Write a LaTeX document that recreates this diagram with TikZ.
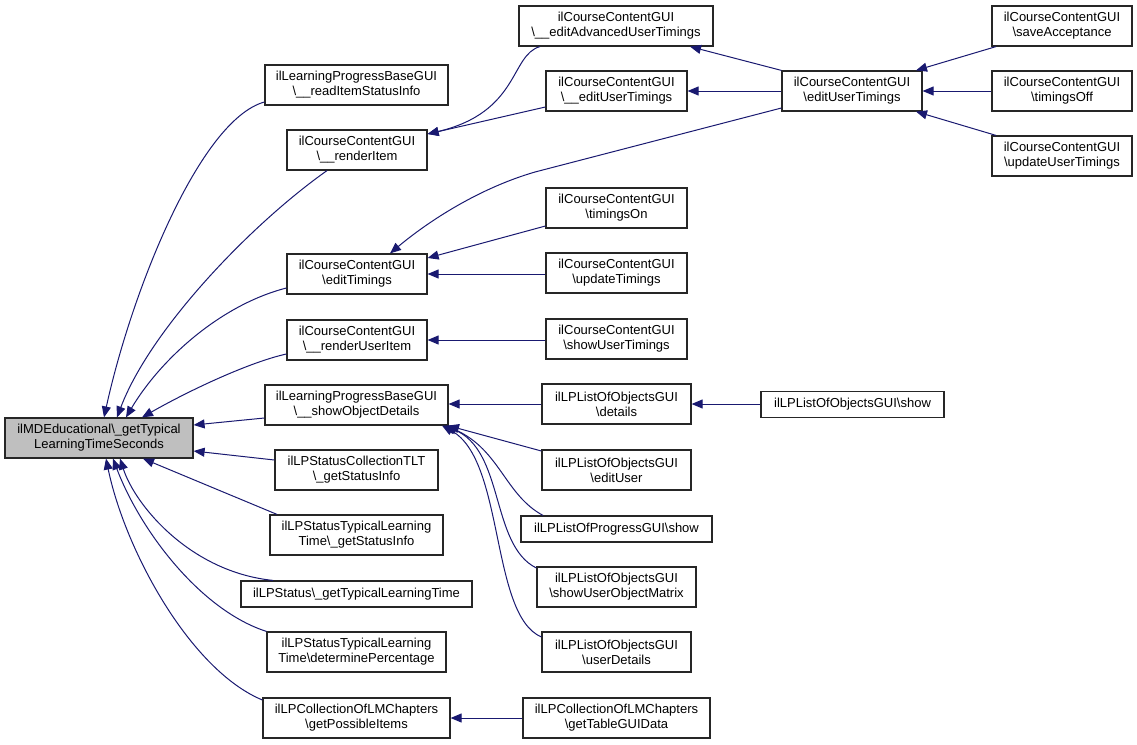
\documentclass[tikz,border=0pt]{standalone}
\usepackage{fontspec}
\setmainfont{Liberation Sans}
\usetikzlibrary{arrows.meta}
\definecolor{edgecol}{HTML}{191970}
\definecolor{mainfill}{HTML}{BFBFBF}
\newcommand{\bsl}{\textbackslash}
\begin{document}
\begin{tikzpicture}[x=1pt,y=-1pt,
  box/.style={draw=black!85, line width=1.2pt, inner sep=0pt, minimum height=40pt, align=center, font=\fontsize{13}{15}\selectfont},
  box1/.style={box, minimum height=26pt},
  edge/.style={draw=edgecol, line width=1pt, -{Triangle[length=11pt,width=9pt]}}]
\useasboundingbox (0,0) rectangle (1137,744);

% main
\node[box, fill=mainfill, minimum width=188pt] (main) at (99,438) {ilMDEducational\bsl\_getTypical\\LearningTimeSeconds};

% column 2
\node[box, minimum width=183pt] (rIS) at (356.5,85) {ilLearningProgressBaseGUI\\\bsl\_\_readItemStatusInfo};
\node[box, minimum width=140pt] (rI) at (357,150) {ilCourseContentGUI\\\bsl\_\_renderItem};
\node[box, minimum width=140pt] (eT) at (357,274) {ilCourseContentGUI\\\bsl editTimings};
\node[box, minimum width=140pt] (rUI) at (357,340) {ilCourseContentGUI\\\bsl\_\_renderUserItem};
\node[box, minimum width=183pt] (sOD) at (356.5,405) {ilLearningProgressBaseGUI\\\bsl\_\_showObjectDetails};
\node[box, minimum width=163pt] (sCT) at (356.5,470) {ilLPStatusCollectionTLT\\\bsl\_getStatusInfo};
\node[box, minimum width=173pt] (sTG) at (356.5,535) {ilLPStatusTypicalLearning\\Time\bsl\_getStatusInfo};
\node[box1, minimum width=231pt] (sGT) at (356.5,594) {ilLPStatus\bsl\_getTypicalLearningTime};
\node[box, minimum width=179pt] (dP) at (356.5,652) {ilLPStatusTypicalLearning\\Time\bsl determinePercentage};
\node[box, minimum width=187pt] (gPI) at (356.5,718) {ilLPCollectionOfLMChapters\\\bsl getPossibleItems};

% column 3
\node[box, minimum width=194pt] (eAUT) at (616,26) {ilCourseContentGUI\\\bsl\_\_editAdvancedUserTimings};
\node[box, minimum width=141pt] (eUTb) at (616.5,91) {ilCourseContentGUI\\\bsl\_\_editUserTimings};
\node[box, minimum width=141pt] (tOn) at (616.5,208) {ilCourseContentGUI\\\bsl timingsOn};
\node[box, minimum width=141pt] (uT) at (616.5,273) {ilCourseContentGUI\\\bsl updateTimings};
\node[box, minimum width=141pt] (sUT) at (616.5,339) {ilCourseContentGUI\\\bsl showUserTimings};
\node[box, minimum width=149pt] (det) at (616.5,404) {ilLPListOfObjectsGUI\\\bsl details};
\node[box, minimum width=149pt] (eU) at (616.5,470) {ilLPListOfObjectsGUI\\\bsl editUser};
\node[box1, minimum width=191pt] (pS) at (616.5,529) {ilLPListOfProgressGUI\bsl show};
\node[box, minimum width=159pt] (sUOM) at (616.5,587) {ilLPListOfObjectsGUI\\\bsl showUserObjectMatrix};
\node[box, minimum width=149pt] (uD) at (616.5,652) {ilLPListOfObjectsGUI\\\bsl userDetails};
\node[box, minimum width=187pt] (gTG) at (616.5,718) {ilLPCollectionOfLMChapters\\\bsl getTableGUIData};

% column 4
\node[box, minimum width=140pt] (eUT) at (852,91) {ilCourseContentGUI\\\bsl editUserTimings};
\node[box1, minimum width=183pt] (oShow) at (852.5,404.5) {ilLPListOfObjectsGUI\bsl show};

% column 5
\node[box, minimum width=140pt] (sA) at (1062,26) {ilCourseContentGUI\\\bsl saveAcceptance};
\node[box, minimum width=140pt] (tOff) at (1062,91) {ilCourseContentGUI\\\bsl timingsOff};
\node[box, minimum width=140pt] (uUT) at (1062,156) {ilCourseContentGUI\\\bsl updateUserTimings};

% edges into main
\draw[edge] (rIS.west |- 0,102) .. controls (200,120) and (132,290) .. (main.north -| 104,0);
\draw[edge] (rI.south -| 327,0) .. controls (250,225) and (150,330) .. (main.north -| 117,0);
\draw[edge] (eT.west |- 0,288) .. controls (220,305) and (160,360) .. (main.north -| 126,0);
\draw[edge] (rUI.west |- 0,354) .. controls (250,362) and (190,390) .. (main.north -| 142,0);
\draw[edge] (sOD.west |- 0,418) -- (main.east |- 0,425);
\draw[edge] (sCT.west |- 0,460) -- (main.east |- 0,451);
\draw[edge] (sTG.north -| 277,0) -- (main.south -| 143,0);
\draw[edge] (sGT.north -| 273,0) .. controls (190,572) and (135,505) .. (main.south -| 120,0);
\draw[edge] (dP.north west) .. controls (200,610) and (140,530) .. (main.south -| 113,0);
\draw[edge] (gPI.west |- 0,700) .. controls (190,670) and (125,550) .. (main.south -| 106,0);

% column 3 -> column 2
\draw[edge] (eAUT.south -| 540,0) .. controls (510,55) and (520,112) .. (rI.east |- 0,134);
\draw[edge] (eUTb.west |- 0,107) -- (rI.east |- 0,134);
\draw[edge] (eUT.west |- 0,108) -- (535,172) .. controls (480,188) and (430,220) .. (eT.north -| 390,0);
\draw[edge] (tOn.west |- 0,226) -- (eT.east |- 0,258);
\draw[edge] (uT.west |- 0,274) -- (eT.east |- 0,274);
\draw[edge] (sUT.west |- 0,340) -- (rUI.east |- 0,340);
\draw[edge] (det.west |- 0,404) -- (sOD.east |- 0,404);
\draw[edge] (eU.west |- 0,451) -- (sOD.south -| 448,0);
\draw[edge] (pS.north -| 543,0) .. controls (505,495) and (500,450) .. (sOD.south -| 446,0);
\draw[edge] (sUOM.west |- 0,568) .. controls (490,545) and (505,450) .. (sOD.south -| 444,0);
\draw[edge] (uD.west |- 0,637) .. controls (490,615) and (505,460) .. (sOD.south -| 442,0);
\draw[edge] (gTG.west |- 0,718) -- (gPI.east |- 0,718);

% column 4 -> column 3
\draw[edge] (oShow.west |- 0,404) -- (det.east |- 0,404);
\draw[edge] (eUT.north west) -- (eAUT.south -| 690,0);
\draw[edge] (eUT.west |- 0,91) -- (eUTb.east |- 0,91);

% column 5 -> column 4
\draw[edge] (sA.south -| 996,0) -- (eUT.north -| 916,0);
\draw[edge] (tOff.west |- 0,91) -- (eUT.east |- 0,91);
\draw[edge] (uUT.north -| 996,0) -- (eUT.south -| 916,0);
\end{tikzpicture}
\end{document}
